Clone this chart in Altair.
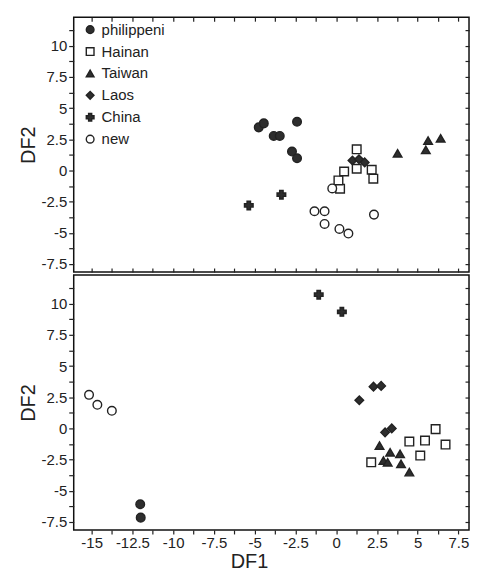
import altair as alt
import pandas as pd

groups = ["philippeni", "Hainan", "Taiwan", "Laos", "China", "new"]
shapes = ["circle", "square", "triangle-up", "diamond", "cross", "circle"]
fills = ["#2e2e2e", "#ffffff", "#2e2e2e", "#2e2e2e", "#2e2e2e", "#ffffff"]
strokes = ["#222222"] * 6

x_ticks = [-15 + 1.25 * i for i in range(19)]
y_ticks = [-7.5 + 1.25 * i for i in range(16)]

# top panel
top_philippeni_x = [-4.75, -4.44, -3.83, -3.46, -2.40, -2.71, -2.40]
top_philippeni_y = [3.46, 3.78, 2.77, 2.77, 3.91, 1.52, 0.98]
top_hainan_x = [1.26, 0.24, 0.14, 0.49, 1.26, 2.18, 2.28]
top_hainan_y = [1.70, -1.46, -0.80, -0.08, 0.14, 0.06, -0.66]
top_taiwan_x = [3.77, 5.50, 5.64, 6.41]
top_taiwan_y = [1.38, 1.65, 2.40, 2.58]
top_laos_x = [1.00, 1.40, 1.75]
top_laos_y = [0.80, 0.90, 0.65]
top_china_x = [-5.36, -3.36]
top_china_y = [-2.80, -1.94]
top_new_x = [-1.33, -0.71, -0.71, 0.20, 0.75, 2.32, -0.24]
top_new_y = [-3.27, -3.27, -4.29, -4.69, -5.06, -3.54, -1.44]

# bottom panel
bot_philippeni_x = [-12.02, -11.99]
bot_philippeni_y = [-6.09, -7.16]
bot_hainan_x = [2.15, 4.49, 5.45, 6.10, 6.71, 5.16]
bot_hainan_y = [-2.72, -1.06, -0.98, -0.06, -1.30, -2.18]
bot_taiwan_x = [2.66, 2.90, 3.16, 3.31, 3.92, 3.98, 4.49]
bot_taiwan_y = [-1.38, -2.58, -2.72, -1.92, -2.05, -2.85, -3.51]
bot_laos_x = [2.29, 2.76, 1.42, 3.00, 3.41]
bot_laos_y = [3.35, 3.41, 2.26, -0.32, 0.00]
bot_china_x = [-1.07, 0.35]
bot_china_y = [10.73, 9.35]
bot_new_x = [-15.16, -14.65, -13.76]
bot_new_y = [2.69, 1.89, 1.41]


def frame(series):
    rows = []
    for g, xs, ys in series:
        for xv, yv in zip(xs, ys):
            rows.append({"x": xv, "y": yv, "group": g})
    return pd.DataFrame(rows)


top_df = frame([
    ("philippeni", top_philippeni_x, top_philippeni_y),
    ("Hainan", top_hainan_x, top_hainan_y),
    ("Taiwan", top_taiwan_x, top_taiwan_y),
    ("Laos", top_laos_x, top_laos_y),
    ("China", top_china_x, top_china_y),
    ("new", top_new_x, top_new_y),
])
bot_df = frame([
    ("philippeni", bot_philippeni_x, bot_philippeni_y),
    ("Hainan", bot_hainan_x, bot_hainan_y),
    ("Taiwan", bot_taiwan_x, bot_taiwan_y),
    ("Laos", bot_laos_x, bot_laos_y),
    ("China", bot_china_x, bot_china_y),
    ("new", bot_new_x, bot_new_y),
])

X_DOM = [-16.1, 8.15]
Y_DOM = [-8.15, 12.3]
LAB = "datum.value % 2.5 === 0 ? '' + datum.value : ''"
INK = "#222222"


def panel(df, bottom):
    xs = alt.Scale(domain=X_DOM, nice=False, zero=False)
    ys = alt.Scale(domain=Y_DOM, nice=False, zero=False)
    if bottom:
        x_axis = alt.Axis(orient="bottom", values=x_ticks, labelExpr=LAB, tickSize=4,
                          labelPadding=2, title="DF1", titlePadding=1, titleX=176,
                          domain=False, grid=False)
    else:
        x_axis = alt.Axis(orient="bottom", values=x_ticks, labels=False, tickSize=4,
                          offset=-4, title=None, domain=False, grid=False)
    y_axis = alt.Axis(orient="left", values=y_ticks, labelExpr=LAB, tickSize=5,
                      labelPadding=2, title="DF2", titlePadding=3, domain=False, grid=False)
    if bottom:
        leg = None
    else:
        leg = alt.Legend(title=None, orient="none", legendX=9, legendY=5, labelFontSize=15,
                         labelColor=INK, symbolSize=60, symbolStrokeWidth=1.4,
                         rowPadding=6, labelOffset=4, padding=0)
    shape_enc = alt.Shape("group:N", scale=alt.Scale(domain=groups, range=shapes), legend=leg)
    fill_enc = alt.Fill("group:N", scale=alt.Scale(domain=groups, range=fills), legend=leg)
    stroke_enc = alt.Stroke("group:N", scale=alt.Scale(domain=groups, range=strokes), legend=leg)
    pts = alt.Chart(df).mark_point(filled=True, size=75, strokeWidth=1.4,
                                   opacity=1, fillOpacity=1, strokeOpacity=1).encode(
        x=alt.X("x:Q", scale=xs, axis=x_axis),
        y=alt.Y("y:Q", scale=ys, axis=y_axis),
        shape=shape_enc,
        fill=fill_enc,
        stroke=stroke_enc,
    )
    if bottom:
        mx = alt.X("x:Q", scale=xs, axis=None)
    else:
        mx = alt.X("x:Q", scale=xs, axis=alt.Axis(orient="top", values=x_ticks, labels=False,
                                                   tickSize=4, offset=-4, title=None,
                                                   domain=False, grid=False))
    mirror = alt.Chart(df).mark_point(opacity=0).encode(
        x=mx,
        y=alt.Y("y:Q", scale=ys, axis=alt.Axis(orient="right", values=y_ticks, labels=False,
                                               tickSize=4, offset=-4, title=None,
                                               domain=False, grid=False)),
    )
    return alt.layer(pts, mirror).resolve_scale(x="independent", y="independent").properties(
        width=397, height=256)


chart = alt.vconcat(panel(top_df, False), panel(bot_df, True), spacing=0).resolve_legend(
    shape="independent", fill="independent", stroke="independent"
).properties(
    padding={"left": 9, "top": 6, "right": 0, "bottom": 0}
).configure_axis(
    labelFont="Liberation Sans", titleFont="Liberation Sans", labelFontSize=15,
    titleFontSize=20, titleFontWeight="normal", labelColor=INK, titleColor=INK,
    tickColor=INK, tickWidth=1.2
).configure_legend(
    labelFont="Liberation Sans"
).configure_view(
    stroke="#111111", strokeWidth=1.5
)

chart.save("out.html", embed_options={"renderer": "svg", "actions": False})
